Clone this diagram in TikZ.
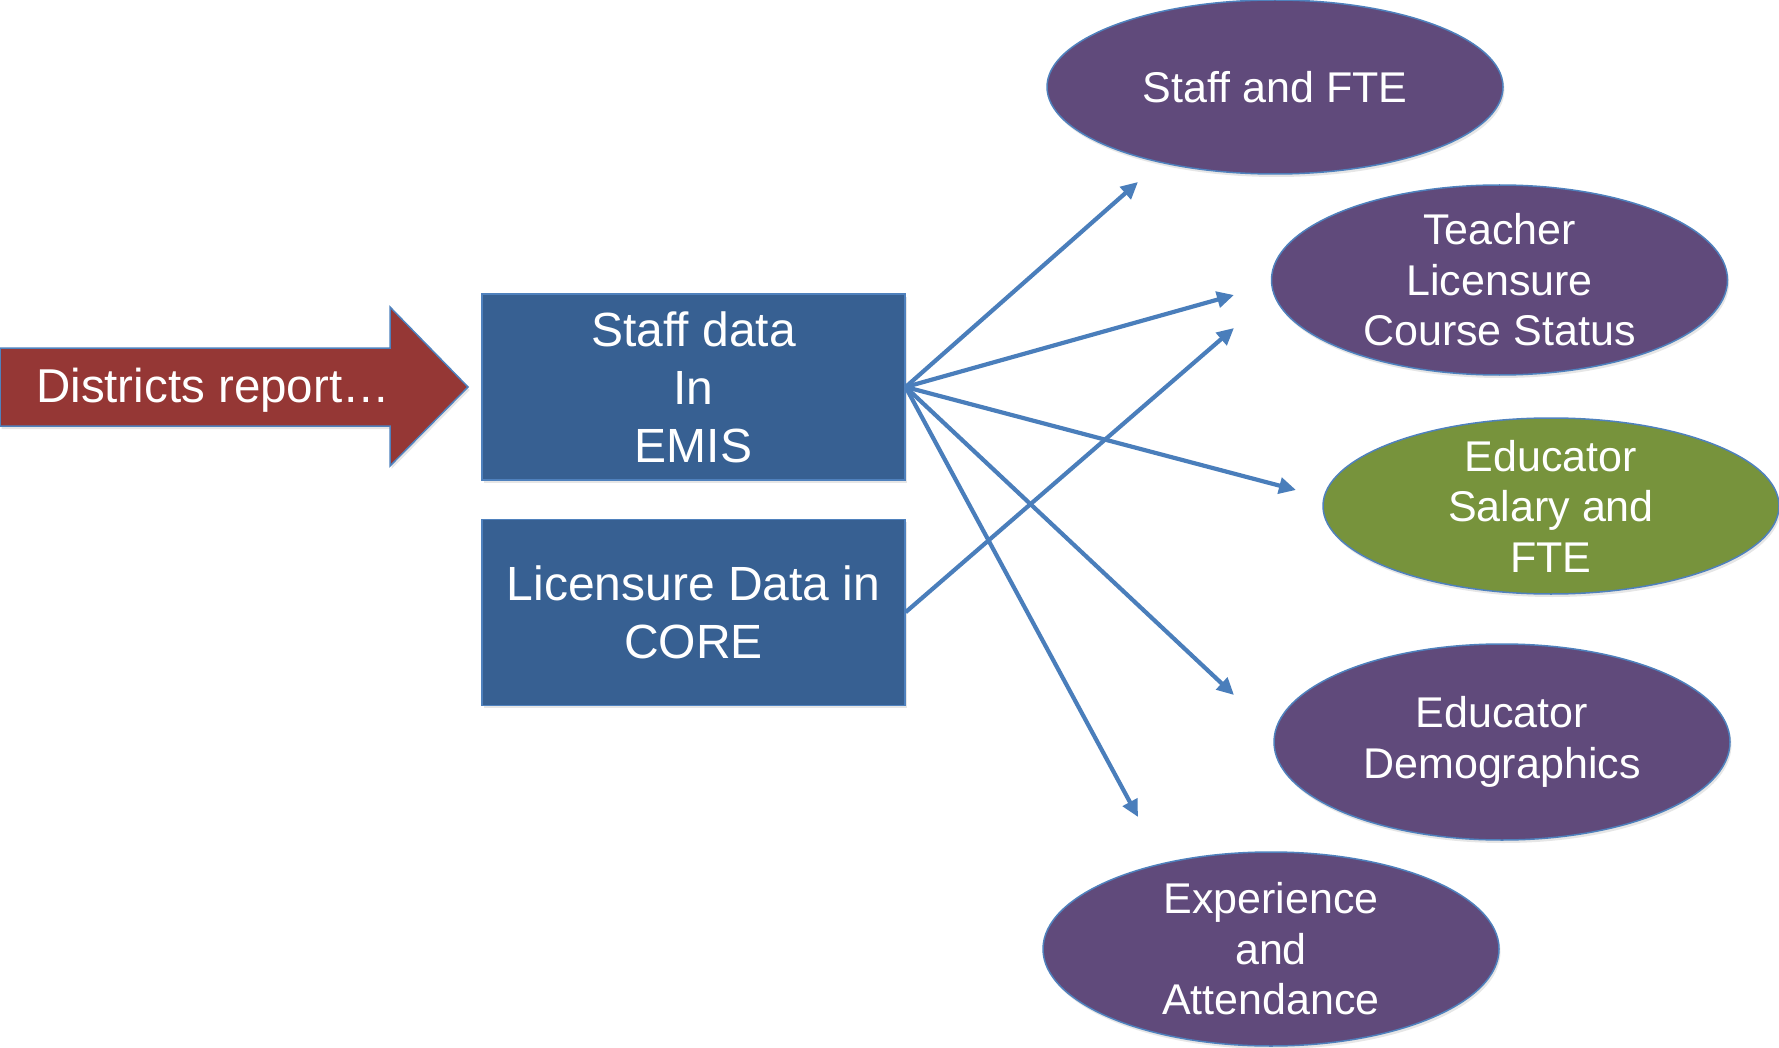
\documentclass[tikz,border=0pt]{standalone}
\usepackage{fontspec}
\setmainfont{Liberation Sans}
\usetikzlibrary{positioning,shapes.geometric,arrows.meta,shadows}
\definecolor{boxblue}{HTML}{376092}
\definecolor{plum}{HTML}{604A7B}
\definecolor{olive}{HTML}{77933C}
\definecolor{brick}{HTML}{953735}
\definecolor{edgeblue}{HTML}{4F81BD}
\definecolor{lineblue}{HTML}{4A7EBB}
\tikzset{
  softshadow/.style={drop shadow={opacity=0.2,shadow xshift=1.5pt,shadow yshift=-3pt}},
  datasrc/.style={rectangle, fill=boxblue, draw=edgeblue, line width=1.2pt, minimum width=423pt, minimum height=186pt, text=white, align=center, font=\fontsize{48}{58}\selectfont, softshadow},
  outcome/.style={ellipse, fill=plum, draw=edgeblue, line width=1.5pt, minimum width=456pt, inner sep=-30pt, text=white, align=center, font=\fontsize{43}{50.5}\selectfont, softshadow},
  feed/.style={draw=lineblue, line width=4.2pt, -{Triangle[length=17pt,width=16pt]}}
}
\begin{document}
\begin{tikzpicture}[x=1pt,y=-1pt]
\useasboundingbox (0,0) rectangle (1779,1048);
\filldraw[fill=brick, draw=edgeblue, line width=1.5pt, softshadow] (0,348) -- (390,348) -- (390,307) -- (468,387) -- (390,466) -- (390,426) -- (0,426) -- cycle;
\node[text=white, font=\fontsize{47.5}{55}\selectfont] (report) at (213,390) {Districts report…};
\node[datasrc] (emis) at (693.5,387) {Staff data\\In\\EMIS}; \node[datasrc, below=38pt of emis] (core) {Licensure Data in\\CORE};
\node[outcome, minimum height=174pt] (fte) at (1275,87) {Staff and FTE};
\node[outcome, minimum height=190pt] (lic) at (1499.5,280) {Teacher\\Licensure\\Course Status};
\node[outcome, fill=olive, minimum height=176pt] (salary) at (1551,506) {Educator\\Salary and\\FTE};
\node[outcome, minimum height=196pt] (demo) at (1502,742) {Educator\\Demographics};
\node[outcome, minimum height=194pt] (exper) at (1271,949) {Experience\\and\\Attendance};
\coordinate (t1) at (1138,182); \coordinate (t2) at (1234,295); \coordinate (t3) at (1234,328); \coordinate (t4) at (1296,490); \coordinate (t5) at (1234,695); \coordinate (t6) at (1138,817);
\draw[feed] (emis.east) -- (t1); \draw[feed] (emis.east) -- (t2); \draw[feed] (emis.east) -- (t4); \draw[feed] (emis.east) -- (t5); \draw[feed] (emis.east) -- (t6);
\draw[feed] (core.east) -- (t3);
\end{tikzpicture}
\end{document}
